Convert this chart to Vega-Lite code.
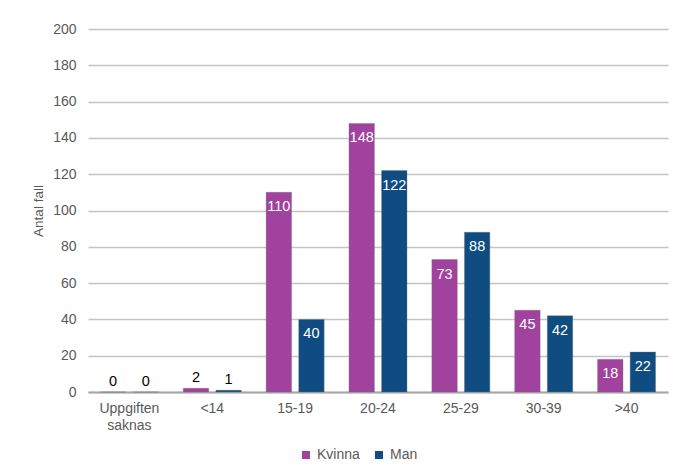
{
  "$schema": "https://vega.github.io/schema/vega-lite/v6.json",
  "width": 580,
  "height": 363,
  "autosize": {"type": "none"},
  "padding": {"left": 88, "top": 29, "right": 6, "bottom": 76},
  "background": "white",
  "config": {
    "view": {"stroke": null},
    "font": "Liberation Sans",
    "axis": {"labelFont": "Liberation Sans", "labelFontSize": 14, "labelColor": "#595959", "titleFont": "Liberation Sans", "titleColor": "#595959", "titleFontWeight": "normal", "titleFontSize": 13.5},
    "legend": {"labelFont": "Liberation Sans", "labelFontSize": 14, "labelColor": "#595959"}
  },
  "data": {
    "values": [
      {"age": "Uppgiften saknas", "sex": "Kvinna", "n": 0},
      {"age": "Uppgiften saknas", "sex": "Man", "n": 0},
      {"age": "<14", "sex": "Kvinna", "n": 2},
      {"age": "<14", "sex": "Man", "n": 1},
      {"age": "15-19", "sex": "Kvinna", "n": 110},
      {"age": "15-19", "sex": "Man", "n": 40},
      {"age": "20-24", "sex": "Kvinna", "n": 148},
      {"age": "20-24", "sex": "Man", "n": 122},
      {"age": "25-29", "sex": "Kvinna", "n": 73},
      {"age": "25-29", "sex": "Man", "n": 88},
      {"age": "30-39", "sex": "Kvinna", "n": 45},
      {"age": "30-39", "sex": "Man", "n": 42},
      {"age": ">40", "sex": "Kvinna", "n": 18},
      {"age": ">40", "sex": "Man", "n": 22}
    ]
  },
  "encoding": {
    "x": {
      "field": "age", "type": "nominal", "sort": null,
      "scale": {"paddingInner": 0.3, "paddingOuter": 0.15},
      "axis": {
        "title": null, "labelAngle": 0, "ticks": false, "labelPadding": 9,
        "domain": true, "domainColor": "#a6a6a6", "domainWidth": 2,
        "labelExpr": "datum.value == 'Uppgiften saknas' ? ['Uppgiften', 'saknas'] : datum.value",
        "labelLineHeight": 17
      }
    },
    "xOffset": {"field": "sex", "type": "nominal", "scale": {"paddingInner": 0.22, "paddingOuter": 0}},
    "y": {
      "field": "n", "type": "quantitative",
      "scale": {"domain": [0, 200]},
      "axis": {
        "title": "Antal fall", "values": [0,20,40,60,80,100,120,140,160,180,200],
        "domain": false, "ticks": false, "labelPadding": 12, "titlePadding": 7,
        "gridColor": "#c4c4c4", "gridWidth": 1.5
      }
    }
  },
  "layer": [
    {
      "mark": {"type": "bar", "stroke": "#6f6f6f", "strokeWidth": 0.6, "strokeOpacity": 0.6},
      "encoding": {
        "color": {
          "field": "sex", "type": "nominal",
          "scale": {"domain": ["Kvinna", "Man"], "range": ["#A0429E", "#0F4C81"]},
          "legend": {"title": null, "orient": "none", "legendX": 211, "legendY": 419, "padding": 0, "direction": "horizontal", "symbolType": "square", "symbolSize": 64, "columnPadding": 12, "labelOffset": 4, "symbolStrokeWidth": 0}
        }
      }
    },
    {
      "transform": [{"filter": "datum.n >= 10"}],
      "mark": {"type": "text", "baseline": "middle", "dy": 15, "color": "white", "fontSize": 14.5, "font": "Liberation Sans"},
      "encoding": {"text": {"field": "n", "type": "quantitative"}}
    },
    {
      "transform": [{"filter": "datum.n < 10"}],
      "mark": {"type": "text", "baseline": "alphabetic", "dy": -6, "color": "black", "fontSize": 14.5, "font": "Liberation Sans"},
      "encoding": {"text": {"field": "n", "type": "quantitative"}}
    }
  ]
}
